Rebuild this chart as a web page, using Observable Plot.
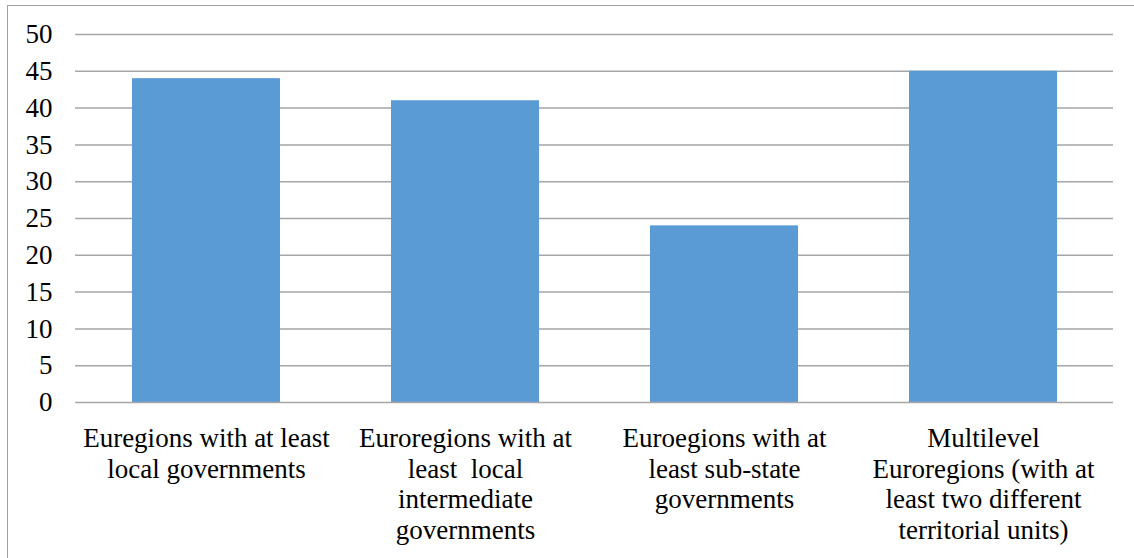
<!DOCTYPE html>
<html>
<head>
<meta charset="utf-8">
<script src="https://cdn.jsdelivr.net/npm/d3@7"></script>
<script src="https://cdn.jsdelivr.net/npm/@observablehq/plot@0.6"></script>
<style>
  html, body { margin: 0; padding: 0; background: #fff; }
  #wrap { position: relative; width: 1134px; height: 558px; overflow: hidden; }
  #border { position: absolute; left: 7px; top: 5px; width: 1200px; height: 600px; border: 1.5px solid #a0a0a0; box-sizing: border-box; }
  #chart { position: absolute; left: 0; top: 0; }
  #chart svg { display: block; }
  #chart svg text { white-space: pre; }
</style>
</head>
<body>
<div id="wrap"><div id="border"></div><div id="chart"></div></div>
<script>
const categories = [
  "Euregions with at least\nlocal governments",
  "Euroregions with at\nleast  local\nintermediate\ngovernments",
  "Euroegions with at\nleast sub-state\ngovernments",
  "Multilevel\nEuroregions (with at\nleast two different\nterritorial units)"
];
const values = [44, 41, 24, 45];
const yTicks = [0, 5, 10, 15, 20, 25, 30, 35, 40, 45, 50];

const data = categories.map((c, i) => ({category: c, value: values[i]}));
const FONT = "Liberation Serif";
const FS = 27;

const chart = Plot.plot({
  width: 1134,
  height: 558,
  marginLeft: 75,
  marginRight: 21,
  marginTop: 34,
  marginBottom: 156,
  style: {background: "transparent", overflow: "visible", color: "#000"},
  x: {domain: categories, paddingInner: 0.43, paddingOuter: 0.215, axis: null},
  y: {domain: [0, 50], axis: null},
  marks: [
    Plot.gridY(yTicks.filter(t => t > 0), {stroke: "#a6a6a6", strokeOpacity: 1, strokeWidth: 1.5}),
    Plot.barY(data, {x: "category", y: "value", fill: "#5b9bd5"}),
    Plot.ruleY([0], {stroke: "#a6a6a6", strokeWidth: 1.5}),
    Plot.axisY({ticks: yTicks, tickSize: 0, tickPadding: 23, label: null, tickFormat: d => String(d),
      fontFamily: FONT, fontSize: FS, fill: "#000"}),
    Plot.text(data, {x: "category", y: () => 0, text: "category", lineAnchor: "top", dy: 22, lineHeight: 1.148,
      fill: "#000", fontSize: FS, fontFamily: FONT})
  ]
});
// drop Plot's scoped stylesheet and class so the serif face is used
d3.select(chart).selectAll("style").remove();
d3.select(chart).attr("class", null).attr("font-family", FONT).attr("font-size", FS)
  .style("font-family", FONT);
d3.select(chart).selectAll("g").attr("class", null);
d3.select(chart).selectAll("text")
  .attr("font-family", FONT)
  .style("font-family", FONT)
  .style("font-size", FS + "px")
  .style("font-variant", "normal");
document.getElementById("chart").appendChild(chart);
</script>
</body>
</html>
